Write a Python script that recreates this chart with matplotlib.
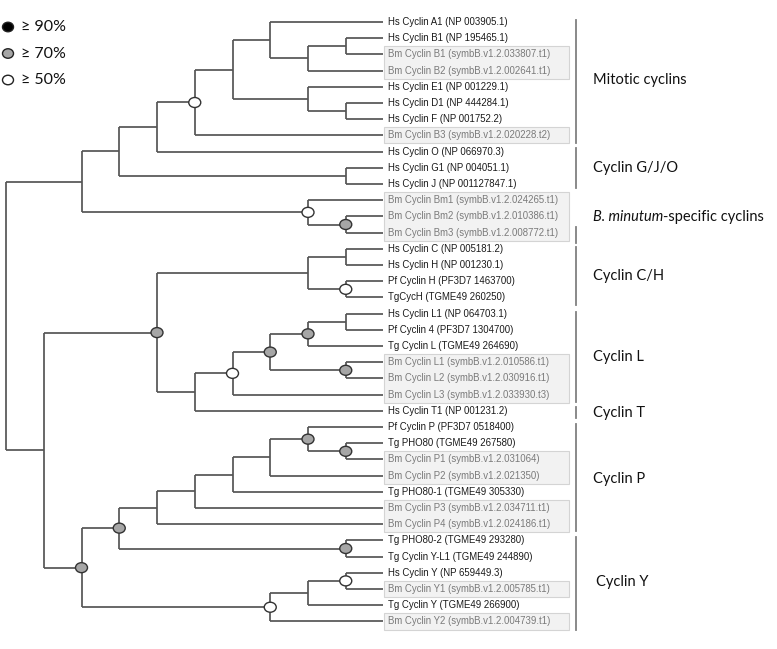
import matplotlib
matplotlib.use("Agg")
import matplotlib.pyplot as plt
from matplotlib.patches import Ellipse, Rectangle

# leaf names, top to bottom
leaf_names = [
    "Hs Cyclin A1 (NP 003905.1)", "Hs Cyclin B1 (NP 195465.1)",
    "Bm Cyclin B1 (symbB.v1.2.033807.t1)", "Bm Cyclin B2 (symbB.v1.2.002641.t1)",
    "Hs Cyclin E1 (NP 001229.1)", "Hs Cyclin D1 (NP 444284.1)",
    "Hs Cyclin F (NP 001752.2)", "Bm Cyclin B3 (symbB.v1.2.020228.t2)",
    "Hs Cyclin O (NP 066970.3)", "Hs Cyclin G1 (NP 004051.1)",
    "Hs Cyclin J (NP 001127847.1)", "Bm Cyclin Bm1 (symbB.v1.2.024265.t1)",
    "Bm Cyclin Bm2 (symbB.v1.2.010386.t1)", "Bm Cyclin Bm3 (symbB.v1.2.008772.t1)",
    "Hs Cyclin C (NP 005181.2)", "Hs Cyclin H (NP 001230.1)",
    "Pf Cyclin H (PF3D7 1463700)", "TgCycH (TGME49 260250)",
    "Hs Cyclin L1 (NP 064703.1)", "Pf Cyclin 4 (PF3D7 1304700)",
    "Tg Cyclin L (TGME49 264690)", "Bm Cyclin L1 (symbB.v1.2.010586.t1)",
    "Bm Cyclin L2 (symbB.v1.2.030916.t1)", "Bm Cyclin L3 (symbB.v1.2.033930.t3)",
    "Hs Cyclin T1 (NP 001231.2)", "Pf Cyclin P (PF3D7 0518400)",
    "Tg PHO80 (TGME49 267580)", "Bm Cyclin P1 (symbB.v1.2.031064)",
    "Bm Cyclin P2 (symbB.v1.2.021350)", "Tg PHO80-1 (TGME49 305330)",
    "Bm Cyclin P3 (symbB.v1.2.034711.t1)", "Bm Cyclin P4 (symbB.v1.2.024186.t1)",
    "Tg PHO80-2 (TGME49 293280)", "Tg Cyclin Y-L1 (TGME49 244890)",
    "Hs Cyclin Y (NP 659449.3)", "Bm Cyclin Y1 (symbB.v1.2.005785.t1)",
    "Tg Cyclin Y (TGME49 266900)", "Bm Cyclin Y2 (symbB.v1.2.004739.t1)",
]

# tree topology: leaves are row numbers, ")<depth><support>" closes a clade
# support: g = >=70%, w = >=50%
tree = ("(((((((0,((1,2)9,3)8)7,(4,(5,6)9)8)6,7)5w,8)4,(9,10)9)3,(11,(12,13)9g)8w)2,"
        "((((14,15)9,(16,17)9w)8,(((((18,19)9,20)8g,(21,22)9g)7g,23)6w,24)5)4g,"
        "(((((((25,(26,27)9g)8g,28)7,29)6,30)5,31)4,(32,33)9g)3g,"
        "(((34,35)9w,36)8,37)7w)2g)1)0")

# shaded Bm rows (first, last)
bm_boxes = [(2, 3), (7, 7), (11, 13), (21, 23), (27, 28), (30, 31), (35, 35), (37, 37)]

# clade bars: name, row span, label row
groups = ["Mitotic cyclins", "Cyclin G/J/O", "B. minutum-specific cyclins", "Cyclin C/H",
          "Cyclin L", "Cyclin T", "Cyclin P", "Cyclin Y"]
group_span = [(-0.15, 7.45), (7.8, 10.25), (12.65, 13.65), (13.9, 17.45),
              (17.9, 23.45), (23.75, 24.45), (24.8, 31.4), (31.8, 37.5)]
group_row = [3.58, 9.0, 12.04, 15.68, 20.68, 24.14, 28.2, 34.57]

legend_labels = ["≥ 90%", "≥ 70%", "≥ 50%"]
sup_colors = {"b": "black", "g": "#a6a6a6", "w": "white"}

# layout (pixels)
x0, dx, tip_x = 6, 37.75, 383
row0, drow = 22, 16.2
line_col = "#555555"


def row_y(r):
    return row0 + drow * r


def parse(s, i=0):
    if s[i] == "(":
        kids = []
        i += 1
        while True:
            k, i = parse(s, i)
            kids.append(k)
            i += 1
            if s[i - 1] == ")":
                break
        j = i
        while j < len(s) and s[j] not in ",)":
            j += 1
        tag = s[i:j]
        sup = tag[-1] if tag[-1].isalpha() else None
        return {"kids": kids, "level": int(tag.rstrip("bgw")), "sup": sup}, j
    j = i
    while s[j] not in ",)":
        j += 1
    return {"leaf": int(s[i:j])}, j


fig = plt.figure(figsize=(7.77, 6.49), dpi=100)
ax = fig.add_axes([0, 0, 1, 1])
ax.set_xlim(0, 777)
ax.set_ylim(649, 0)
ax.axis("off")

marks = []


def draw(node, px):
    if "leaf" in node:
        y = row_y(node["leaf"])
        ax.plot([px, tip_x], [y, y], color=line_col, lw=1.25, solid_capstyle="butt")
        return y
    x = x0 + dx * node["level"]
    ys = [draw(k, x) for k in node["kids"]]
    y = (ys[0] + ys[-1]) / 2
    ax.plot([x, x], [ys[0], ys[-1]], color=line_col, lw=1.25, solid_capstyle="butt")
    if px is not None:
        ax.plot([px, x], [y, y], color=line_col, lw=1.25, solid_capstyle="butt")
    if node["sup"]:
        marks.append((x, y, node["sup"]))
    return y


root, _ = parse(tree)
draw(root, None)

for x, y, s in marks:
    ax.add_patch(Ellipse((x, y), 12, 10, facecolor=sup_colors[s], edgecolor="#333333",
                         lw=1.0, zorder=5))

# shaded boxes for B. minutum sequences
for a, b in bm_boxes:
    ax.add_patch(Rectangle((384, row_y(a) - drow / 2), 185, drow * (b - a + 1),
                           facecolor="#f2f2f2", edgecolor="#d4d4d4", lw=0.8, zorder=1))

for i, name in enumerate(leaf_names):
    col = "#7a7a7a" if name.startswith("Bm") else "#1a1a1a"
    ax.text(388, row_y(i), name, fontsize=6.9, family="Liberation Sans", color=col,
            va="center", ha="left", zorder=3)

# clade bars and labels
for name, (a, b), r in zip(groups, group_span, group_row):
    ax.plot([576, 576], [row_y(a), row_y(b)], color="#808080", lw=1.3)
    if name.startswith("B. minutum"):
        t = ax.text(593, row_y(r), "B. minutum", fontsize=10.5, family="Lato",
                    style="italic", va="center", ha="left", color="#111111")
        fig.canvas.draw()
        bb = t.get_window_extent().transformed(ax.transData.inverted())
        ax.text(bb.x1, row_y(r), "-specific cyclins", fontsize=10.5, family="Lato",
                va="center", ha="left", color="#111111")
    else:
        xl = 596 if name == "Cyclin Y" else 593
        ax.text(xl, row_y(r), name, fontsize=10.5, family="Lato", va="center",
                ha="left", color="#111111")

# support legend
for k, (lab, s) in enumerate(zip(legend_labels, ["b", "g", "w"])):
    y = 27 + 26.5 * k
    ax.add_patch(Ellipse((8, y), 11, 9.5, facecolor=sup_colors[s], edgecolor="#222222", lw=1.0))
    ax.text(21, y, lab, fontsize=11.5, family=["Lato", "DejaVu Sans"], va="center",
            ha="left", color="#111111")

fig.savefig("out.png", dpi=100)
